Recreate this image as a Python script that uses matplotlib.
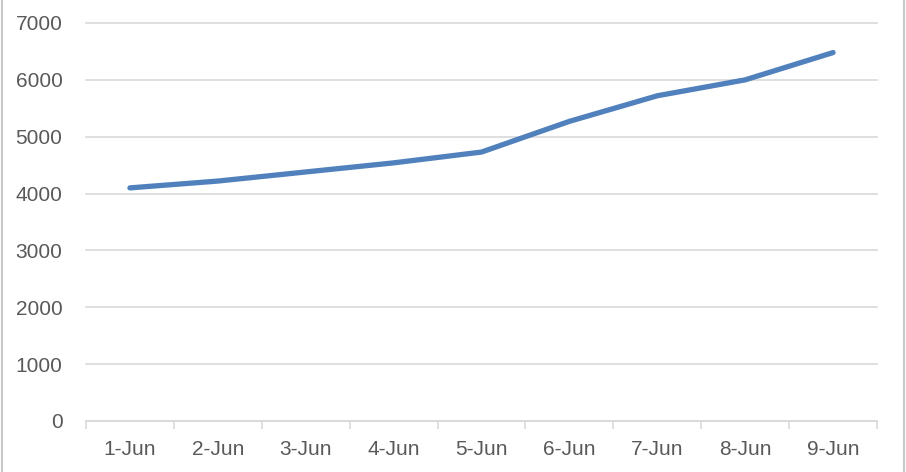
import matplotlib.pyplot as plt
from matplotlib.lines import Line2D

plt.rcParams['font.family'] = ['Liberation Sans', 'DejaVu Sans']

days = ['1-Jun', '2-Jun', '3-Jun', '4-Jun', '5-Jun', '6-Jun', '7-Jun', '8-Jun', '9-Jun']
values = [4100, 4220, 4380, 4540, 4730, 5270, 5720, 6000, 6480]

fig = plt.figure(figsize=(9.06, 4.72), dpi=100)
ax = fig.add_axes([86/906, 1 - 421/472, (877 - 86)/906, (421 - 23)/472])

x = list(range(len(days)))
ax.plot(x, values, color='#5181bd', linewidth=3.8, solid_capstyle='round', zorder=3)

ax.set_xlim(-0.5, len(days) - 0.5)
ax.set_ylim(0, 7000)
ax.set_yticks(range(0, 7001, 1000))
ax.grid(axis='y', color='#d9d9d9', linewidth=1.2)
for gl in ax.get_ygridlines():
    gl.set_clip_on(False)
ax.set_axisbelow(True)

ax.set_xticks([i - 0.5 for i in range(len(days) + 1)], minor=False)
ax.set_xticklabels([])
ax.set_xticks(x, minor=True)
ax.set_xticklabels(days, minor=True)
ax.tick_params(axis='x', which='major', length=6, color='#d9d9d9', width=1.2)
ax.tick_params(axis='x', which='minor', length=0, pad=14, labelsize=15, labelcolor='#595959')
ax.tick_params(axis='y', length=0, pad=17, labelsize=15, labelcolor='#595959')

for s in ['top', 'right', 'left']:
    ax.spines[s].set_visible(False)
ax.spines['bottom'].set_color('#d9d9d9')
ax.spines['bottom'].set_linewidth(1.2)

# outer chart frame edges
fig.add_artist(Line2D([1.5/906, 1.5/906], [0, 1], color='#c8c8c8', linewidth=1.5))
fig.add_artist(Line2D([903.5/906, 903.5/906], [0, 1], color='#c8c8c8', linewidth=1.5))

fig.savefig('out.png', dpi=100)
